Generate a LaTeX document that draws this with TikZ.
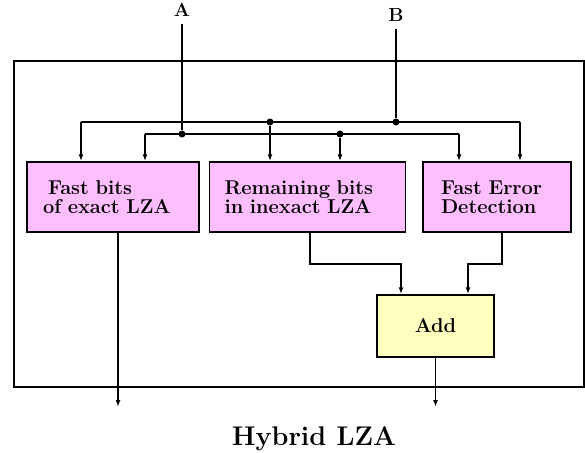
\documentclass[tikz,border=0pt]{standalone}
\usepackage{tikz}
\usetikzlibrary{arrows,arrows.meta}
\definecolor{blkpink}{RGB}{255,190,255}
\definecolor{blkyellow}{RGB}{255,255,192}

\begin{document}
\begin{tikzpicture}[x=1pt,y=-1pt,>={Latex[length=7pt,width=5pt]},line width=1.4pt,
  blk/.style={draw,line width=1.5pt,fill=blkpink,align=left,inner ysep=0pt,
    minimum height=70pt,font=\fontsize{20}{19}\selectfont\bfseries},
  dot/.style={circle,fill=black,inner sep=0pt,minimum size=7pt},
  inlabel/.style={anchor=base,inner sep=6.5pt,font=\fontsize{19}{19}\selectfont\bfseries}]
\useasboundingbox (0,0) rectangle (585,452);
\draw[line width=1.5pt] (14,61) rectangle (584,387);
% the three blocks and the adder
\node[blk,inner xsep=16pt,text width=140pt] (fast) at (113,197)
  {\hspace*{5pt}Fast bits\\of exact LZA};
\node[blk,inner xsep=15pt,text width=166pt] (rem) at (307.5,197)
  {Remaining bits\\in inexact LZA};
\node[blk,inner xsep=18pt,text width=112pt] (err) at (497,197)
  {Fast Error\\Detection};
\node[blk,fill=blkyellow,align=center,minimum width=117pt,minimum height=62pt]
  (add) at (435.5,326) {Add};
% inputs
\node[inlabel] (a) at (182,16.7) {A};
\node[inlabel] (b) at (396,21.5) {B};
\node[dot] (da) at (182,134) {};
\node[dot] (dl) at (340,134) {};
\node[dot] (du) at (270,122) {};
\node[dot] (db) at (396,122) {};
\coordinate (u1) at (81,122);
\coordinate (u2) at (520,122);
\coordinate (l1) at (145,134);
\coordinate (l2) at (459,134);
\draw (a.south) -- (da);
\draw (b.south) -- (db);
\draw (u1) -- (u2);
\draw (l1) -- (l2);
\draw[->] (u1) -- (u1 |- fast.north);
\draw[->] (l1) -- (l1 |- fast.north);
\draw[->] (du) -- (du |- rem.north);
\draw[->] (dl) -- (dl |- rem.north);
\draw[->] (l2) -- (l2 |- err.north);
\draw[->] (u2) -- (u2 |- err.north);
% outputs
\coordinate (o1) at (118,407);
\coordinate (o2) at (435.5,407);
\coordinate (j1) at (310,264);
\coordinate (j2) at (502,264);
\coordinate (i1) at (401,264);
\coordinate (i2) at (468,264);
\draw[->] (fast.south -| o1) -- (o1);
\draw[->] (rem.south -| j1) -- (j1) -- (i1) -- (add.north -| i1);
\draw[->] (err.south -| j2) -- (j2) -- (i2) -- (add.north -| i2);
\draw[->] (add.south) -- (o2);
\node[anchor=base,font=\fontsize{27}{27}\selectfont\bfseries] (title) at (314,445)
  {Hybrid LZA};
\end{tikzpicture}
\end{document}
